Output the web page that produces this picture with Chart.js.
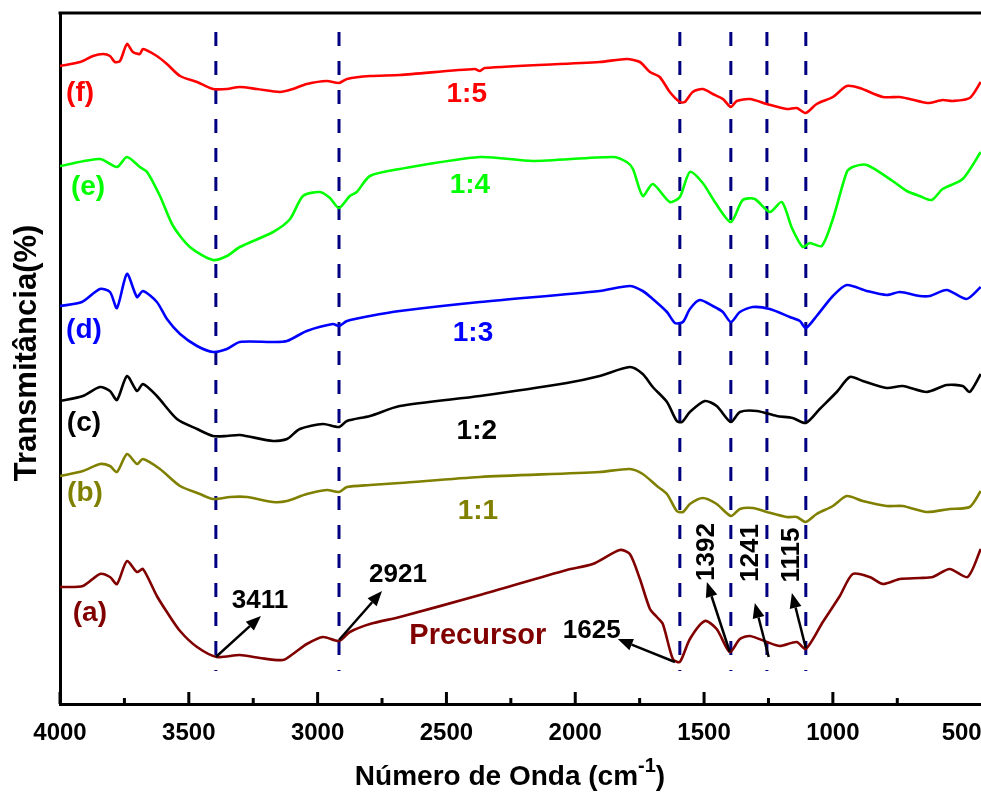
<!DOCTYPE html>
<html>
<head>
<meta charset="utf-8">
<script src="https://cdn.jsdelivr.net/npm/chart.js@4.4.1/dist/chart.umd.min.js"></script>
<style>
  html, body { margin: 0; padding: 0; background: #fff; }
</style>
</head>
<body>
<canvas id="ftirChart" width="981" height="792"></canvas>
<script>
// FTIR spectra, [wavenumber (cm-1), transmittance (offset, a.u.)]
const spectrumF = [
  [4000,63.8],[3922,64.2],[3872,64.8],[3833,65.0],[3806,64.8],[3787,64.2],[3767,64.3],[3740,66.0],
  [3717,65.2],[3690,65.0],[3678,65.5],[3624,64.8],[3585,64.0],[3534,62.8],[3468,62.2],[3406,61.5],
  [3352,61.5],[3302,61.7],[3236,61.5],[3146,61.2],[3096,61.5],[3042,62.0],[2964,62.3],[2917,62.1],
  [2886,62.5],[2797,62.8],[2681,62.9],[2390,63.5],[2370,63.3],[2351,63.6],[1905,64.2],[1800,64.5],
  [1749,64.2],[1710,63.2],[1672,62.7],[1633,61.2],[1594,60.2],[1575,60.2],[1544,61.2],[1505,61.5],
  [1466,61.0],[1427,60.5],[1396,59.7],[1373,60.3],[1322,60.5],[1256,60.0],[1179,59.5],[1140,59.6],
  [1105,59.1],[1063,60.0],[1000,60.7],[946,61.8],[896,61.6],[806,60.7],[740,60.7],[702,60.5],
  [632,60.1],[574,60.4],[535,60.3],[469,60.6],[426,62.2]
];
const spectrumE = [
  [4000,53.8],[3845,54.5],[3779,53.7],[3740,54.7],[3690,53.7],[3662,53.2],[3612,50.8],[3561,47.8],
  [3496,45.7],[3406,44.4],[3352,44.8],[3302,45.7],[3173,47.2],[3107,48.5],[3057,50.8],[2991,51.2],
  [2952,50.6],[2917,49.6],[2875,50.8],[2848,51.2],[2797,52.8],[2681,53.5],[2370,54.7],[2165,54.3],
  [1854,54.7],[1800,54.2],[1776,53.5],[1738,50.8],[1699,52.0],[1633,50.2],[1594,50.7],[1555,53.2],
  [1505,52.1],[1458,50.2],[1396,48.2],[1350,50.4],[1303,50.5],[1245,49.2],[1198,50.2],[1159,47.6],
  [1117,45.7],[1090,46.1],[1043,45.8],[1000,48.5],[946,53.2],[923,53.7],[868,53.9],[768,52.3],
  [713,51.3],[663,50.8],[616,50.4],[574,51.5],[496,52.5],[426,55.2]
];
const spectrumD = [
  [4000,39.8],[3915,40.2],[3845,41.5],[3806,41.2],[3779,39.6],[3740,43.0],[3701,40.7],[3678,41.3],
  [3624,40.2],[3585,38.5],[3534,37.0],[3468,35.8],[3406,35.2],[3352,35.5],[3302,36.2],[3173,36.2],
  [3119,36.3],[3042,37.3],[2941,38.0],[2917,37.8],[2886,38.3],[2797,38.8],[2681,39.3],[2370,40.2],
  [1905,41.3],[1788,41.8],[1738,41.3],[1699,40.5],[1644,39.2],[1613,38.1],[1582,38.2],[1555,39.5],
  [1517,40.4],[1466,39.8],[1427,39.2],[1396,38.2],[1361,39.2],[1311,39.7],[1245,39.5],[1167,38.7],
  [1128,38.3],[1105,37.6],[1063,38.8],[1000,40.8],[946,41.9],[868,41.3],[791,40.9],[740,41.2],
  [663,40.8],[624,40.8],[558,41.4],[481,40.5],[426,41.7]
];
const spectrumC = [
  [4000,30.3],[3911,30.8],[3845,31.7],[3806,31.3],[3779,30.4],[3740,32.8],[3701,31.3],[3678,32.0],
  [3624,30.8],[3546,28.5],[3468,27.5],[3406,26.8],[3352,26.8],[3302,26.9],[3173,26.3],[3119,26.5],
  [3069,27.5],[2979,28.0],[2917,27.7],[2886,28.3],[2797,28.8],[2681,29.8],[2370,30.8],[2033,32.1],
  [1905,32.8],[1788,33.7],[1738,33.0],[1699,31.7],[1644,30.2],[1606,28.3],[1586,28.2],[1555,29.2],
  [1497,30.3],[1451,29.8],[1396,28.2],[1361,29.2],[1295,29.3],[1218,28.8],[1156,28.6],[1105,28.1],
  [1051,29.5],[985,31.2],[934,32.7],[884,32.3],[791,31.6],[729,31.8],[636,31.2],[558,31.9],
  [496,31.8],[469,31.2],[426,33.0]
];
const spectrumB = [
  [4000,22.8],[3911,23.3],[3845,24.0],[3806,23.8],[3779,23.2],[3740,25.0],[3701,24.0],[3678,24.5],
  [3612,23.5],[3534,21.8],[3457,21.0],[3406,20.5],[3340,20.7],[3274,20.7],[3173,20.2],[3119,20.3],
  [3042,21.0],[2964,21.4],[2917,21.2],[2886,21.7],[2797,21.9],[2681,22.1],[2370,22.7],[1905,23.2],
  [1788,23.5],[1738,23.0],[1683,21.8],[1644,21.0],[1606,19.3],[1582,19.2],[1555,20.0],[1505,20.6],
  [1451,20.0],[1396,18.8],[1361,19.5],[1311,19.6],[1256,19.2],[1179,18.7],[1140,18.7],[1105,18.2],
  [1063,19.0],[1000,19.8],[946,20.8],[884,20.3],[791,19.8],[729,19.8],[636,19.2],[547,19.5],
  [469,19.7],[426,21.3]
];
const spectrumA = [
  [4000,11.7],[3911,11.8],[3845,13.0],[3806,12.7],[3779,12.0],[3740,14.3],[3701,13.2],[3678,13.5],
  [3624,10.8],[3585,9.2],[3534,7.3],[3468,5.7],[3391,4.7],[3302,4.9],[3224,4.6],[3135,4.4],
  [3096,5.0],[3042,6.0],[2979,6.7],[2917,6.3],[2875,7.2],[2797,8.0],[2681,8.7],[2370,10.9],
  [2033,13.4],[1932,14.0],[1827,15.4],[1788,15.0],[1749,12.5],[1710,9.5],[1683,8.7],[1660,8.0],
  [1621,4.5],[1594,4.2],[1555,6.5],[1497,8.3],[1451,7.5],[1400,5.2],[1361,6.5],[1322,6.8],
  [1256,6.2],[1206,5.8],[1140,6.2],[1105,5.5],[1039,8.2],[973,10.8],[923,13.0],[857,12.7],
  [806,12.0],[740,12.5],[663,12.6],[612,12.7],[547,13.5],[477,12.7],[426,15.5]
];

const peakLines = [3395, 2917, 1594, 1396, 1256, 1105];
const xTickLabels = [4000, 3500, 3000, 2500, 2000, 1500, 1000, 500];

// curve letters and ratio labels: [text, wavenumber, transmittance]
const curveTags = [['(f)',3922,61.1],['(e)',3891,51.7],['(d)',3907,37.4],['(c)',3907,28.1],['(b)',3903,21.1],['(a)',3884,9.1]];
const ratioTags = [['1:5',2421,61.0],['1:4',2409,51.9],['1:3',2397,37.1],['1:2',2382,27.3],['1:1',2378,19.3],['Precursor',2378,6.8]];

// peak arrows: [label, from wn, from T, to wn, to T, label wn, label T, rotated]
const peakArrows = [
  ['3411',3395,4.7,3220,8.8,3224,10.3,false],
  ['2921',2917,6.4,2750,11.3,2688,12.9,false],
  ['1625',1613,4.2,1835,6.5,1936,7.3,false],
  ['1392',1400,5.2,1489,12.2,1489,15.2,true],
  ['1241',1249,4.7,1303,10.1,1319,15.1,true],
  ['1115',1105,5.6,1159,11.1,1159,14.9,true]
];

const colors = ['#ff0000', '#00ff00', '#0000ff', '#000000', '#808000', '#800000'];
const spectra = [spectrumF, spectrumE, spectrumD, spectrumC, spectrumB, spectrumA];

const FONT = '"Liberation Sans", Arial, sans-serif';

const datasets = spectra.map((s, i) => ({
  data: s.map(p => ({ x: p[0], y: p[1] })),
  borderColor: colors[i],
  borderWidth: 2.6,
  pointRadius: 0,
  tension: 0.25,
  fill: false
}));

peakLines.forEach(wn => {
  datasets.push({
    data: [{ x: wn, y: 67.2 }, { x: wn, y: 3.3 }],
    borderColor: '#000080',
    borderWidth: 3,
    borderDash: [14, 15],
    pointRadius: 0,
    fill: false
  });
});

const decorations = {
  id: 'decorations',
  afterDatasetsDraw(chart) {
    const { ctx, chartArea, scales: { x, y } } = chart;
    ctx.save();
    ctx.strokeStyle = '#000';
    ctx.fillStyle = '#000';

    // top frame line
    ctx.lineWidth = 3;
    ctx.beginPath();
    ctx.moveTo(chartArea.left - 1.5, chartArea.top);
    ctx.lineTo(chartArea.right, chartArea.top);
    ctx.stroke();

    // inward ticks on bottom axis
    x.ticks.forEach(t => {
      const px = x.getPixelForValue(t.value);
      const len = t.value % 500 === 0 ? 12 : 6;
      ctx.beginPath();
      ctx.moveTo(px, chartArea.bottom);
      ctx.lineTo(px, chartArea.bottom - len);
      ctx.stroke();
    });

    // tick labels
    ctx.font = 'bold 24px ' + FONT;
    ctx.textAlign = 'center';
    ctx.textBaseline = 'alphabetic';
    xTickLabels.forEach(v => {
      ctx.fillText(String(v), x.getPixelForValue(v), chartArea.bottom + 36);
    });

    // x title with superscript
    const main = 'Número de Onda (cm';
    const sup = '-1';
    const close = ')';
    ctx.font = 'bold 28px ' + FONT;
    const w1 = ctx.measureText(main).width;
    const w3 = ctx.measureText(close).width;
    ctx.font = 'bold 20px ' + FONT;
    const w2 = ctx.measureText(sup).width;
    const sx = 510 - (w1 + w2 + w3) / 2;
    const base = chartArea.bottom + 81;
    ctx.textAlign = 'left';
    ctx.font = 'bold 28px ' + FONT;
    ctx.fillText(main, sx, base);
    ctx.font = 'bold 20px ' + FONT;
    ctx.fillText(sup, sx + w1, base - 13);
    ctx.font = 'bold 28px ' + FONT;
    ctx.fillText(close, sx + w1 + w2, base);

    // y title
    ctx.save();
    ctx.translate(27, 353);
    ctx.rotate(-Math.PI / 2);
    ctx.textAlign = 'center';
    ctx.textBaseline = 'middle';
    ctx.font = 'bold 31px ' + FONT;
    ctx.fillText('Transmitância(%)', 0, 0);
    ctx.restore();

    // curve letters and ratios
    ctx.textAlign = 'center';
    ctx.textBaseline = 'middle';
    curveTags.forEach((tag, i) => {
      ctx.fillStyle = colors[i];
      ctx.font = 'bold 28px ' + FONT;
      ctx.fillText(tag[0], x.getPixelForValue(tag[1]), y.getPixelForValue(tag[2]));
    });
    ratioTags.forEach((tag, i) => {
      ctx.fillStyle = colors[i];
      ctx.font = (tag[0] === 'Precursor' ? 'bold 29px ' : 'bold 28px ') + FONT;
      ctx.fillText(tag[0], x.getPixelForValue(tag[1]), y.getPixelForValue(tag[2]));
    });

    // peak arrows and labels
    ctx.fillStyle = '#000';
    ctx.strokeStyle = '#000';
    ctx.lineWidth = 2.5;
    peakArrows.forEach(a => {
      const x0 = x.getPixelForValue(a[1]), y0 = y.getPixelForValue(a[2]);
      const x1 = x.getPixelForValue(a[3]), y1 = y.getPixelForValue(a[4]);
      const ang = Math.atan2(y1 - y0, x1 - x0);
      const head = 15, half = 6;
      const bx = x1 - head * Math.cos(ang), by = y1 - head * Math.sin(ang);
      ctx.beginPath();
      ctx.moveTo(x0, y0);
      ctx.lineTo(bx, by);
      ctx.stroke();
      ctx.beginPath();
      ctx.moveTo(x1, y1);
      ctx.lineTo(bx + half * Math.sin(ang), by - half * Math.cos(ang));
      ctx.lineTo(bx - half * Math.sin(ang), by + half * Math.cos(ang));
      ctx.closePath();
      ctx.fill();

      ctx.save();
      ctx.translate(x.getPixelForValue(a[5]), y.getPixelForValue(a[6]));
      if (a[7]) ctx.rotate(-Math.PI / 2);
      ctx.font = 'bold 26px ' + FONT;
      ctx.textAlign = 'center';
      ctx.textBaseline = 'middle';
      ctx.fillText(a[0], 0, 0);
      ctx.restore();
    });

    ctx.restore();
  }
};

new Chart(document.getElementById('ftirChart').getContext('2d'), {
  type: 'line',
  data: { datasets },
  options: {
    responsive: false,
    animation: false,
    devicePixelRatio: 1,
    layout: { padding: { left: 60, top: 13, right: 0, bottom: 88 } },
    plugins: {
      legend: { display: false },
      tooltip: { enabled: false }
    },
    scales: {
      x: {
        type: 'linear',
        reverse: true,
        min: 425,
        max: 4000,
        afterBuildTicks: axis => {
          axis.ticks = axis.ticks.filter(t => t.value % 250 === 0);
        },
        ticks: { display: false, stepSize: 250 },
        grid: { display: false, drawTicks: false },
        border: { display: true, color: '#000', width: 3 }
      },
      y: {
        min: 0,
        max: 69.1,
        ticks: { display: false },
        grid: { display: false, drawTicks: false },
        border: { display: true, color: '#000', width: 3 }
      }
    }
  },
  plugins: [decorations]
});
</script>
</body>
</html>
